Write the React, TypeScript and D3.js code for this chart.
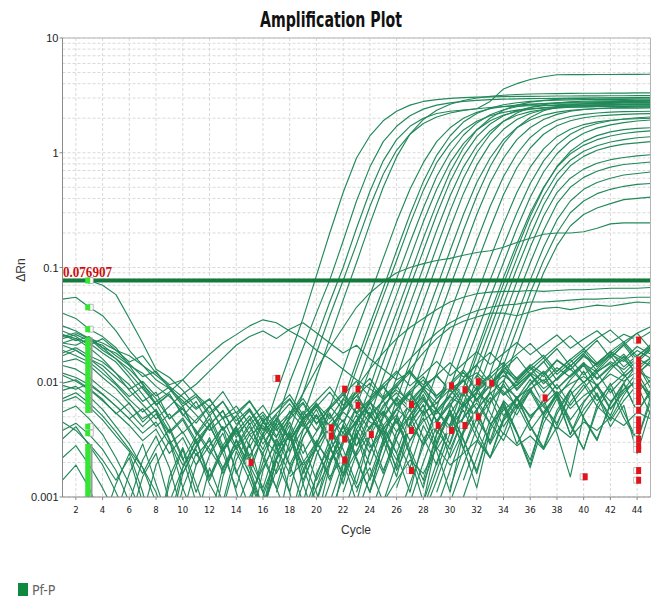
import React from 'react';
import * as d3 from 'd3';

const W = 659;
const H = 606;

const titleText = 'Amplification Plot';
const xLabel = 'Cycle';
const yLabel = 'ΔRn';
const legendLabel = 'Pf-P';
const xTicks = [2, 4, 6, 8, 10, 12, 14, 16, 18, 20, 22, 24, 26, 28, 30, 32, 34, 36, 38, 40, 42, 44];
const yTickValues = [0.001, 0.01, 0.1, 1, 10];
const yTickLabels = ['0.001', '0.01', '0.1', '1', '10'];
const thresholdValue = 0.076907;
const thresholdLabel = '0.076907';

// amplification curves: first cycle of each, then values per cycle up to 45
const risingStarts = [14, 15, 16, 16, 17, 18, 19, 19, 20, 20, 21, 21, 22, 22, 23, 23, 24, 24, 25, 26, 26,
  27, 28, 28, 28, 29, 29, 30, 30, 31, 31, 28, 15, 18, 20, 22];
const risingCurves: number[][] = [
  [.0008, .0016, .0035, .008, .017, .036, .085, .2, .45, .9, 1.4, 1.9, 2.3, 2.6, 2.8, 2.9, 2.98, 3.02, 3.05, 3.07, 3.08, 3.1, 3.1, 3.11, 3.12, 3.12, 3.13, 3.13, 3.14, 3.14, 3.15, 3.15],
  [.0009, .002, .0045, .01, .02, .04, .078, .17, .38, .75, 1.25, 1.7, 2.1, 2.4, 2.6, 2.72, 2.8, 2.86, 2.9, 2.93, 2.95, 2.96, 2.97, 2.98, 2.99, 3.0, 3.0, 3.01, 3.01, 3.02, 3.02],
  [.001, .0022, .005, .011, .024, .05, .1, .22, .46, .85, 1.3, 1.7, 2.0, 2.2, 2.3, 2.36, 2.42, 2.8, 3.6, 4.0, 4.35, 4.6, 4.78, 4.8, 4.8, 4.81, 4.81, 4.82, 4.82, 4.83],
  [.0008, .0017, .0038, .008, .018, .038, .077, .16, .34, .65, 1.05, 1.45, 1.8, 2.05, 2.22, 2.34, 2.42, 2.48, 2.52, 2.55, 2.57, 2.58, 2.59, 2.6, 2.6, 2.61, 2.61, 2.62, 2.62, 2.62],
  [.0011, .0024, .005, .011, .024, .052, .11, .24, .5, .92, 1.45, 1.95, 2.35, 2.65, 2.85, 3.0, 3.1, 3.17, 3.22, 3.25, 3.27, 3.28, 3.29, 3.3, 3.3, 3.31, 3.31, 3.32, 3.32],
  [.0006, .0013, .0028, .006, .013, .028, .057, .12, .25, .48, .82, 1.25, 1.65, 2.0, 2.25, 2.42, 2.53, 2.6, 2.65, 2.68, 2.7, 2.72, 2.73, 2.74, 2.75, 2.75, 2.76, 2.76],
  [.0007, .0015, .0032, .007, .015, .032, .066, .14, .29, .56, .95, 1.4, 1.85, 2.2, 2.45, 2.62, 2.73, 2.8, 2.84, 2.87, 2.89, 2.9, 2.91, 2.92, 2.92, 2.93, 2.93],
  [.0006, .0012, .0027, .006, .013, .027, .056, .115, .24, .47, .82, 1.2, 1.58, 1.88, 2.1, 2.25, 2.35, 2.41, 2.45, 2.48, 2.5, 2.51, 2.52, 2.53, 2.53, 2.54, 2.54],
  [.0009, .002, .0042, .009, .019, .039, .08, .165, .33, .62, 1.0, 1.42, 1.82, 2.14, 2.37, 2.52, 2.62, 2.68, 2.72, 2.75, 2.77, 2.78, 2.79, 2.8, 2.8, 2.81],
  [.0006, .0013, .0029, .0062, .013, .028, .058, .12, .25, .48, .82, 1.2, 1.58, 1.9, 2.13, 2.29, 2.4, 2.47, 2.52, 2.55, 2.57, 2.59, 2.6, 2.61, 2.61, 2.62],
  [.0009, .002, .0043, .009, .02, .041, .085, .18, .36, .68, 1.1, 1.58, 2.0, 2.35, 2.6, 2.76, 2.86, 2.92, 2.96, 2.98, 3.0, 3.0, 3.01, 3.01, 3.02],
  [.0007, .0015, .0033, .007, .015, .032, .068, .14, .29, .56, .94, 1.38, 1.78, 2.1, 2.33, 2.48, 2.57, 2.62, 2.65, 2.67, 2.68, 2.69, 2.7, 2.7, 2.71],
  [.0011, .0024, .005, .011, .023, .048, .1, .21, .42, .75, 1.15, 1.55, 1.88, 2.12, 2.28, 2.38, 2.45, 2.49, 2.51, 2.53, 2.54, 2.55, 2.55, 2.56],
  [.0007, .0016, .0035, .0075, .016, .034, .071, .15, .31, .6, 1.0, 1.45, 1.88, 2.22, 2.48, 2.63, 2.72, 2.78, 2.81, 2.83, 2.84, 2.85, 2.85, 2.86],
  [.0011, .0024, .0052, .011, .024, .05, .105, .22, .44, .78, 1.2, 1.6, 1.95, 2.2, 2.37, 2.48, 2.55, 2.59, 2.62, 2.63, 2.64, 2.65, 2.65],
  [.0007, .0015, .0032, .007, .015, .032, .067, .14, .29, .55, .9, 1.3, 1.65, 1.93, 2.13, 2.26, 2.34, 2.39, 2.42, 2.44, 2.45, 2.45, 2.46],
  [.0011, .0023, .005, .011, .023, .048, .1, .21, .42, .76, 1.2, 1.65, 2.03, 2.32, 2.5, 2.61, 2.67, 2.71, 2.73, 2.74, 2.75, 2.75],
  [.0007, .0015, .0032, .007, .015, .032, .068, .14, .29, .55, .9, 1.3, 1.66, 1.95, 2.16, 2.3, 2.38, 2.43, 2.46, 2.48, 2.49, 2.5],
  [.0009, .002, .0043, .009, .019, .04, .083, .17, .34, .62, .98, 1.36, 1.68, 1.92, 2.07, 2.16, 2.22, 2.26, 2.28, 2.29, 2.3],
  [.0012, .0026, .0055, .012, .025, .052, .108, .22, .43, .74, 1.1, 1.45, 1.72, 1.9, 2.02, 2.09, 2.13, 2.16, 2.18, 2.19],
  [.0006, .0013, .0028, .006, .013, .028, .058, .12, .24, .45, .75, 1.08, 1.38, 1.6, 1.76, 1.86, 1.92, 1.96, 1.98, 2.0],
  [.0009, .002, .0042, .009, .019, .039, .078, .155, .3, .54, .85, 1.17, 1.45, 1.66, 1.8, 1.9, 1.97, 2.02, 2.05],
  [.0013, .0028, .006, .013, .027, .055, .11, .22, .41, .68, .98, 1.26, 1.48, 1.64, 1.75, 1.83, 1.89, 1.93],
  [.0009, .002, .0043, .009, .019, .04, .082, .16, .3, .5, .75, .98, 1.16, 1.3, 1.4, 1.47, 1.52, 1.55],
  [.0007, .0014, .003, .0065, .014, .029, .06, .12, .24, .42, .65, .86, 1.03, 1.15, 1.24, 1.3, 1.35, 1.38],
  [.0011, .0024, .005, .011, .023, .048, .098, .19, .35, .56, .77, .93, 1.05, 1.13, 1.19, 1.22, 1.25],
  [.0008, .0017, .0037, .008, .017, .036, .075, .15, .28, .45, .6, .72, .81, .87, .91, .94, .96],
  [.0012, .0026, .0055, .012, .026, .055, .11, .21, .36, .5, .61, .69, .75, .79, .81, .83],
  [.0009, .0019, .004, .0085, .018, .038, .078, .15, .26, .38, .48, .55, .6, .64, .66, .68],
  [.0014, .003, .0065, .014, .029, .06, .115, .2, .3, .38, .44, .48, .51, .53, .54],
  [.001, .0022, .0047, .01, .021, .045, .09, .155, .23, .29, .33, .36, .39, .4, .41],
  [.0008, .0017, .0036, .0078, .017, .035, .072, .145, .28, .49, .76, 1.03, 1.25, 1.41, 1.52, 1.59, 1.63, 1.65],
  [.001, .0018, .003, .005, .008, .013, .02, .03, .045, .06, .075, .09, .1, .108, .115, .12, .128, .135, .14, .15, .165, .18, .195, .2, .2, .205, .22, .24, .245, .245, .245],
  [.0015, .002, .003, .0045, .006, .009, .013, .018, .024, .03, .036, .043, .05, .055, .059, .061, .062, .062, .063, .062, .063, .064, .064, .065, .066, .066, .066, .067],
  [.0012, .002, .003, .0045, .0065, .009, .012, .016, .021, .027, .033, .038, .042, .045, .047, .048, .05, .05, .051, .052, .053, .053, .054, .054, .055, .055],
  [.0015, .0025, .004, .006, .009, .013, .018, .024, .03, .034, .037, .04, .04, .038, .041, .044, .045, .043, .045, .047, .046, .048, .05, .049],
];

// background (non-amplifying) wells, cycles 1..45
const noiseCurves: number[][] = [
  [.078, .078, .077, .07, .058, .036, .022, .013, .011, .0085, .006, .0072, .0048, .0055, .0035, .0042, .0028, .0033, .0019, .0026, .0015, .0022, .0012, .0018, .0009, .0014, .0021, .0016, .0027, .0019, .0024, .0031, .0022, .0036, .0028, .0034, .0026, .0041, .0033, .0045, .0038, .005, .0042, .0055, .0048],
  [.053, .055, .045, .038, .028, .019, .014, .0105, .0088, .0062, .0075, .0051, .0068, .0043, .0056, .0038, .0047, .0031, .0044, .0029, .0052, .0036, .0061, .0045, .0039, .0058, .0047, .0069, .0053, .0075, .0062, .0081, .0066, .0092, .0074, .0088, .0105, .0079, .0097, .0112, .0094, .0118, .0102, .0125, .0108],
  [.04, .036, .029, .025, .02, .014, .0095, .0072, .0048, .0062, .0035, .0052, .0028, .0041, .0019, .0033, .0024, .0038, .0016, .0029, .0021, .0034, .0045, .0027, .0039, .0052, .0031, .0046, .0058, .0037, .0049, .0066, .0043, .0057, .0072, .0051, .0064, .0083, .0059, .0076, .0092, .0068, .0087, .0101, .0079],
  [.026, .024, .022, .018, .015, .011, .0078, .0055, .0031, .0012, .0006, .0018, .0009, .0025, .0014, .0007, .0021, .0011, .0004, .0016, .0028, .0013, .0035, .0019, .0042, .0024, .0011, .0032, .0047, .0022, .0038, .0055, .0029, .0061, .0036, .0018, .0044, .0072, .0035, .0058, .0081, .0046, .0069, .0095, .0052],
  [.024, .026, .023, .021, .017, .014, .012, .0092, .0075, .0058, .0044, .0062, .0038, .0051, .0027, .0045, .0033, .0056, .0041, .0065, .0048, .0072, .0055, .0039, .0063, .0081, .0059, .0074, .0046, .0068, .0092, .0071, .0105, .0083, .0062, .0098, .0125, .0087, .0113, .0142, .0106, .0135, .0158, .012, .0148],
  [.022, .021, .024, .019, .016, .013, .0098, .0065, .0041, .0022, .0009, .0004, .0015, .0032, .0018, .0008, .0026, .0042, .0021, .0011, .0005, .0019, .0036, .0014, .0028, .0049, .0023, .0009, .0031, .0054, .0027, .0012, .0038, .0063, .0029, .0047, .0071, .0036, .0015, .0052, .0078, .0041, .0063, .0024, .0058],
  [.028, .025, .021, .024, .019, .015, .017, .012, .0095, .0105, .0078, .0061, .0083, .0054, .0069, .0046, .0058, .0072, .0049, .0063, .0038, .0055, .0043, .0067, .0051, .0074, .0056, .0088, .0065, .0097, .0076, .0115, .0089, .0128, .0104, .0136, .0112, .0155, .0128, .0172, .0143, .0186, .0158, .0205, .0176],
  [.018, .02, .017, .015, .012, .0095, .0068, .0082, .0048, .0059, .0037, .0024, .0041, .0016, .0029, .0011, .0022, .0035, .0014, .0027, .0043, .0021, .0009, .0025, .0038, .0017, .0031, .0049, .0026, .0041, .0057, .0033, .0022, .0046, .0064, .0038, .0055, .0079, .0047, .0068, .0091, .0058, .0082, .0107, .0073],
  [.015, .016, .014, .011, .0088, .0065, .0048, .0057, .0032, .0019, .0026, .0013, .0008, .0021, .0035, .0024, .0012, .0006, .0017, .0031, .0019, .0043, .0028, .0052, .0034, .0021, .0045, .0063, .0038, .0026, .0049, .0072, .0044, .0031, .0058, .0083, .0051, .0039, .0067, .0095, .0062, .0048, .0077, .0112, .0069],
  [.012, .011, .0095, .0078, .0062, .0048, .0036, .0045, .0029, .0037, .0023, .0031, .0018, .0027, .0041, .0026, .0049, .0033, .0056, .0038, .0062, .0045, .0071, .0052, .0035, .0058, .0079, .0054, .0066, .0087, .0061, .0083, .0104, .0077, .0095, .0118, .0088, .0107, .0131, .0099, .0124, .0146, .0113, .0138, .0162],
  [.0085, .0092, .0075, .0058, .0041, .0029, .0018, .0009, .0004, .0012, .0024, .0015, .0028, .0011, .0005, .0017, .0032, .0019, .0009, .0023, .0041, .0026, .0013, .0034, .0055, .0031, .0018, .0042, .0025, .0011, .0036, .0058, .0029, .0047, .0072, .0041, .0026, .0053, .0085, .0049, .0032, .0064, .0097, .0055, .0081],
  [.0055, .0062, .0048, .0035, .0022, .0013, .0007, .0019, .0031, .0016, .0027, .0042, .0025, .0038, .0021, .0046, .0029, .0011, .0033, .0052, .0027, .0016, .0039, .0061, .0034, .0018, .0044, .0029, .0057, .0041, .0066, .0048, .0031, .0069, .0052, .0085, .0061, .0044, .0078, .0101, .0069, .0093, .0118, .0082, .0105],
  [.019, .017, .015, .012, .0095, .0071, .0055, .0068, .0082, .0105, .0138, .0175, .022, .026, .031, .035, .033, .028, .024, .019, .016, .013, .0105, .0088, .0072, .0085, .0069, .0092, .0076, .0098, .0081, .0106, .0089, .0115, .0093, .0121, .0102, .0134, .0111, .0145, .0122, .0151, .0129, .0163, .0138],
  [.022, .024, .02, .016, .012, .0085, .0064, .0048, .0062, .0079, .0096, .0125, .0162, .021, .025, .028, .024, .029, .033, .027, .022, .018, .021, .016, .013, .0105, .0122, .0095, .0112, .0088, .0103, .0121, .0096, .0134, .0109, .0142, .0118, .0157, .0129, .0168, .0141, .0176, .0152, .0189, .0163],
  [.0032, .0041, .0028, .0019, .0011, .0006, .0015, .0024, .0009, .0018, .0031, .0014, .0026, .0039, .0022, .0012, .0028, .0045, .0024, .0037, .0054, .0031, .0047, .0068, .0042, .0059, .0083, .0051, .0072, .0096, .0065, .0088, .0115, .0079, .0102, .0134, .0097, .0125, .0158, .0116, .0147, .0182, .0136, .0171, .0205],
  [.026, .023, .025, .02, .018, .0145, .0112, .0125, .0088, .0069, .0052, .0038, .0049, .0027, .0016, .0008, .0021, .0035, .0013, .0006, .0019, .0037, .0022, .0011, .0029, .0046, .0024, .0012, .0035, .0057, .0032, .0016, .0041, .0068, .0037, .0019, .0052, .0082, .0044, .0026, .0063, .0098, .0055, .0031, .0074],
  [.0098, .0105, .0088, .0071, .0053, .0066, .0045, .0058, .0037, .0049, .0031, .0043, .0056, .0035, .0047, .0063, .0041, .0054, .0072, .0048, .0061, .0082, .0055, .0071, .0093, .0064, .0085, .0112, .0076, .0098, .0128, .0091, .0117, .0149, .0106, .0138, .0172, .0124, .0158, .0196, .0147, .0185, .0226, .0168, .0212],
  [.021, .019, .016, .013, .0098, .0075, .0092, .0063, .0079, .0051, .0068, .0042, .0057, .0033, .0048, .0029, .0044, .0025, .0039, .0052, .0034, .0047, .0028, .0041, .0056, .0037, .0051, .0072, .0046, .0063, .0087, .0058, .0079, .0104, .0071, .0095, .0124, .0088, .0115, .0149, .0108, .0139, .0176, .0127, .0163],
  [.0045, .0038, .0029, .0021, .0014, .0022, .0009, .0004, .0013, .0026, .0011, .0023, .0036, .0017, .0008, .0024, .0041, .0019, .0033, .0052, .0028, .0015, .0039, .0024, .0049, .0072, .0038, .0057, .0029, .0053, .0081, .0046, .0068, .0097, .0059, .0085, .0118, .0073, .0105, .0141, .0092, .0128, .0169, .0114, .0155],
  [.014, .013, .011, .0088, .0072, .0055, .0041, .0053, .0036, .0047, .0029, .0042, .0025, .0037, .0051, .0033, .0048, .0065, .0045, .0061, .0082, .0057, .0076, .0098, .0071, .0093, .012, .0088, .0115, .0148, .0111, .0143, .0182, .0138, .0175, .0218, .0164, .0207, .0255, .0196, .0242, .0285, .0224, .0268, .0305],
  [.0068, .0075, .0061, .0047, .0034, .0025, .0016, .0027, .0039, .0021, .0034, .0048, .0026, .0041, .0058, .0035, .0052, .0031, .0047, .0066, .0039, .0058, .0081, .0049, .0069, .0044, .0065, .0091, .0057, .0078, .0105, .0068, .0093, .0124, .0085, .0115, .0152, .0104, .0138, .0178, .0125, .0164, .0211, .0148, .0192],
  [.031, .028, .024, .02, .016, .012, .0088, .0064, .0079, .0053, .0038, .0026, .0017, .0031, .0019, .0011, .0005, .0018, .0029, .0014, .0025, .0041, .0023, .0036, .0017, .0033, .0051, .0028, .0044, .0066, .0039, .0058, .0082, .0051, .0073, .0049, .0069, .0096, .0063, .0088, .0121, .0081, .0109, .0145, .0098],
  [.0022, .0028, .0019, .0012, .0007, .0016, .0029, .0013, .0006, .0018, .0032, .0015, .0025, .0041, .0023, .0036, .0016, .0027, .0045, .0026, .0014, .0032, .0052, .0029, .0016, .0037, .0058, .0033, .0019, .0043, .0066, .0038, .0022, .0049, .0075, .0042, .0027, .0057, .0086, .0048, .0031, .0066, .0099, .0055, .0085],
  [.025, .027, .024, .022, .019, .017, .014, .0115, .0092, .0074, .0058, .0071, .0049, .0062, .0043, .0055, .0038, .0051, .0067, .0044, .0059, .0078, .0053, .0069, .0091, .0062, .0081, .0105, .0072, .0094, .0122, .0085, .0109, .0141, .0098, .0128, .0163, .0117, .0149, .0188, .0136, .0174, .0219, .0158, .0201],
  [.0115, .0102, .0087, .0069, .0054, .0042, .0031, .0039, .0024, .0033, .0019, .0028, .0041, .0026, .0037, .0052, .0034, .0048, .0065, .0043, .0059, .0078, .0102, .0074, .0096, .0125, .0093, .0118, .0152, .0114, .0145, .0185, .0143, .0178, .0222, .0174, .0212, .0258, .0198, .0238, .0281, .0221, .0262, .0234, .0275],
  [.0038, .0044, .0035, .0026, .0017, .0009, .0021, .0034, .0018, .0007, .0019, .0033, .0016, .0028, .0044, .0022, .0012, .0031, .0049, .0027, .0041, .0021, .0035, .0055, .0031, .0015, .0042, .0064, .0036, .0053, .0026, .0048, .0074, .0041, .0062, .0089, .0053, .0077, .0035, .0066, .0097, .0059, .0086, .0122, .0077],
  [.017, .019, .016, .014, .011, .0087, .0102, .0076, .0091, .0065, .0079, .0054, .0068, .0046, .0059, .0039, .0053, .0071, .0047, .0062, .0041, .0057, .0076, .0052, .0069, .0093, .0063, .0084, .0056, .0077, .0103, .0071, .0095, .0126, .0088, .0117, .0081, .0108, .0142, .0099, .0131, .0172, .0119, .0156, .0198],
  [.0072, .0081, .0066, .0051, .0037, .0026, .0018, .0011, .0005, .0016, .0028, .0043, .0024, .0012, .0031, .0049, .0027, .0016, .0038, .0058, .0033, .0019, .0045, .0068, .0039, .0024, .0052, .0078, .0046, .0029, .0061, .0091, .0054, .0035, .0072, .0106, .0064, .0042, .0085, .0125, .0076, .0051, .0098, .0142, .0089],
  [.0094, .0087, .0098, .0079, .0062, .0048, .0059, .0041, .0053, .0036, .0047, .0062, .0039, .0051, .0068, .0045, .0059, .0078, .0052, .0069, .0091, .0063, .0082, .0108, .0074, .0097, .0127, .0089, .0116, .0083, .0108, .0141, .0098, .0128, .0166, .0117, .0151, .0196, .0138, .0179, .0232, .0163, .0211, .0268, .0195],
  [.0014, .0019, .0012, .0006, .0013, .0024, .0011, .0004, .0015, .0027, .0013, .0006, .0018, .0031, .0016, .0007, .0021, .0036, .0018, .0009, .0025, .0042, .0021, .0011, .0031, .0049, .0026, .0014, .0036, .0057, .0031, .0017, .0042, .0066, .0036, .0021, .0049, .0077, .0042, .0026, .0058, .0089, .0049, .0031, .0067],
];

const redMarkerCycles = [17, 15, 22, 23, 23, 21, 21, 22, 22, 24, 27, 27, 27, 29, 30, 30, 31, 31, 32, 32, 33, 37, 40,
  44, 44, 44, 44, 44, 44, 44, 44, 44, 44, 44, 44, 44, 44, 44, 44, 44, 44, 44];
const redMarkerValues = [.0108, .002, .0087, .0087, .0063, .004, .0034, .0032, .0021, .0035, .0064, .0038, .0017, .0042, .0038, .0093, .0086, .0042, .0101, .005, .0098, .0073, .0015,
  .0233, .0156, .0138, .0125, .0112, .0101, .0092, .0083, .0075, .0068, .0057, .0047, .0042, .0038, .0032, .0028, .0026, .0017, .0014];

const baselineCycle = 3;
const baselineMarkerValues = [0.077, 0.045, 0.029, 0.0041, 0.0036];
const baselineBarTop = [0.0246, 0.0029];
const baselineBarBottom = [0.0054, 0.00095];

const lineColor = '#22895a';

export default function App() {
  const left = 62.5, right = 650.5, top = 38, bottom = 497;
  const x = d3.scaleLinear().domain([1, 45]).range([left, right]);
  const y = d3.scaleLog().domain([0.001, 10]).range([bottom, top]);
  const line = d3.line<[number, number]>().x(d => x(d[0])).y(d => y(d[1]));

  const minorTicks: number[] = [];
  for (let e = -3; e < 1; e++) {
    for (let m = 2; m <= 9; m++) minorTicks.push(m * Math.pow(10, e));
  }

  const narrow = '"Liberation Sans Narrow", "DejaVu Sans Condensed", "Arial Narrow", sans-serif';
  const sans = '"Liberation Sans", Arial, sans-serif';

  return (
    <svg width={W} height={H} style={{ position: 'absolute', left: 0, top: 0, background: '#fff' }}
      xmlns="http://www.w3.org/2000/svg">
      <defs>
        <clipPath id="plotClip">
          <rect x={left} y={top} width={right - left} height={bottom - top} />
        </clipPath>
      </defs>
      <rect x={0} y={0} width={W} height={H} fill="#fff" />

      <text x={260} y={27} fontFamily={narrow} fontWeight="bold" fontSize={21} textLength={142}
        lengthAdjust="spacingAndGlyphs" fill="#111">{titleText}</text>

      {/* grid */}
      <g stroke="#d9d9d9" strokeWidth={1} strokeDasharray="3,2" fill="none">
        {xTicks.map(t => (
          <line key={'gx' + t} x1={x(t)} x2={x(t)} y1={top} y2={bottom} />
        ))}
        {minorTicks.map((t, i) => (
          <line key={'gm' + i} x1={left} x2={right} y1={y(t)} y2={y(t)} />
        ))}
        {yTickValues.map(t => (
          <line key={'gy' + t} x1={left} x2={right} y1={y(t)} y2={y(t)} />
        ))}
      </g>

      <g clipPath="url(#plotClip)" fill="none" stroke={lineColor} strokeWidth={1.15} strokeLinejoin="round">
        {noiseCurves.map((c, i) => (
          <path key={'n' + i} d={line(c.map((v, j) => [1 + j, v] as [number, number])) || ''} />
        ))}
        {risingCurves.map((c, i) => (
          <path key={'r' + i} d={line(c.map((v, j) => [risingStarts[i] + j, v] as [number, number])) || ''} />
        ))}
        <line x1={left} x2={right} y1={y(thresholdValue)} y2={y(thresholdValue)} stroke="#127a3c" strokeWidth={4} />

        {/* baseline start markers */}
        {baselineBarTop.map((t, i) => (
          <g key={'bb' + i}>
            <rect x={x(baselineCycle) - 4} y={y(t)} width={5.5} height={y(baselineBarBottom[i]) - y(t)} fill="#33e633" stroke="none" />
            <rect x={x(baselineCycle) + 1.5} y={y(t)} width={1.8} height={y(baselineBarBottom[i]) - y(t)} fill="#9a9a9a" stroke="none" />
          </g>
        ))}
        {baselineMarkerValues.map((v, i) => (
          <g key={'bm' + i}>
            <rect x={x(baselineCycle) - 1} y={y(v) - 3} width={5} height={6} fill="#fff" stroke="#aaa" strokeWidth={0.8} />
            <rect x={x(baselineCycle) - 4} y={y(v) - 3} width={5} height={6} fill="#33e633" stroke="none" />
          </g>
        ))}

        {redMarkerCycles.map((c, i) => (
          <g key={'rm' + i}>
            <rect x={x(c) - 3.5} y={y(redMarkerValues[i]) - 3} width={5} height={6} fill="#fff" stroke="#b0b0b0" strokeWidth={0.8} />
            <rect x={x(c) - 1} y={y(redMarkerValues[i]) - 3.5} width={5} height={7} fill="#e3131b" stroke="none" />
          </g>
        ))}
      </g>

      <text x={63} y={277} fontFamily='"Liberation Serif", "Times New Roman", serif' fontSize={14} fontWeight="bold"
        fill="#cc1010" textLength={49} lengthAdjust="spacingAndGlyphs">{thresholdLabel}</text>

      {/* frame & axes */}
      <line x1={left} x2={right} y1={top} y2={top} stroke="#b5b5b5" />
      <line x1={right} x2={right} y1={top} y2={bottom} stroke="#b5b5b5" />
      <line x1={left} x2={left} y1={top} y2={bottom} stroke="#8a8a8a" />
      <line x1={left} x2={right} y1={bottom} y2={bottom} stroke="#8a8a8a" />

      {yTickValues.map((t, i) => (
        <g key={'yt' + t}>
          <line x1={left - 3} x2={left} y1={y(t)} y2={y(t)} stroke="#888" />
          <text x={left - 4} y={y(t) + 4} textAnchor="end" fontFamily={sans} fontSize={11} fill="#222">{yTickLabels[i]}</text>
        </g>
      ))}
      {xTicks.map(t => (
        <g key={'xt' + t}>
          <line x1={x(t)} x2={x(t)} y1={bottom} y2={bottom + 3} stroke="#888" />
          <text x={x(t)} y={513} textAnchor="middle" fontFamily={narrow} fontSize={9.5} fill="#222">{t}</text>
        </g>
      ))}

      <text x={356} y={534} textAnchor="middle" fontFamily={sans} fontSize={12} fill="#333">{xLabel}</text>
      <text transform="translate(25,270) rotate(-90)" textAnchor="middle" fontFamily={sans} fontSize={12} fill="#333">{yLabel}</text>

      <rect x={18} y={583} width={10} height={13} fill="#0e8a3e" />
      <text x={32} y={595} fontFamily={narrow} fontSize={14} fill="#666">{legendLabel}</text>
    </svg>
  );
}
